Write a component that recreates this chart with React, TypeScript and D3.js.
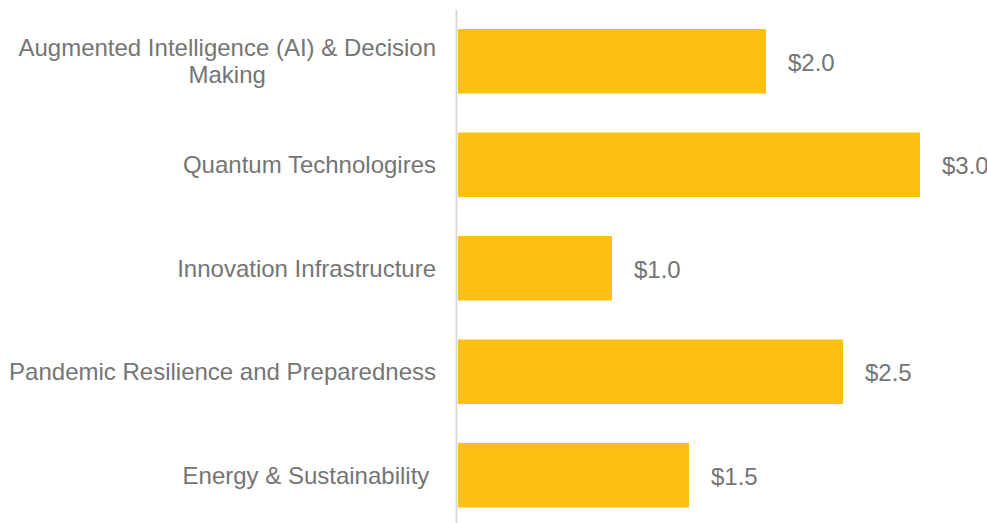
import { useEffect, useRef } from "react";
import * as d3 from "d3";

const categories = [
  ["Augmented Intelligence (AI) & Decision", "Making"],
  ["Quantum Technologires"],
  ["Innovation Infrastructure"],
  ["Pandemic Resilience and Preparedness"],
  ["Energy & Sustainability "],
];
const values = [2.0, 3.0, 1.0, 2.5, 1.5];

export default function App() {
  const ref = useRef<SVGSVGElement>(null);

  useEffect(() => {
    const svg = d3.select(ref.current);
    svg.selectAll("*").remove();

    const width = 987;
    const height = 523;
    const labelRight = 436;

    const x = d3.scaleLinear().domain([0, 3]).range([458, 920]);
    const y = d3
      .scaleBand<number>()
      .domain(values.map((_, i) => i))
      .range([9.5, 527])
      .paddingInner(0.377)
      .paddingOuter(0.1885);

    svg.append("rect").attr("width", width).attr("height", height).attr("fill", "white");

    svg.selectAll("rect.bar")
      .data(values)
      .join("rect")
      .attr("class", "bar")
      .attr("x", x(0))
      .attr("y", (_, i) => y(i)!)
      .attr("width", (d) => x(d) - x(0))
      .attr("height", y.bandwidth())
      .attr("fill", "#FBC012");

    svg.append("line")
      .attr("x1", 456.5).attr("x2", 456.5)
      .attr("y1", 10).attr("y2", height)
      .attr("stroke", "#d9d9d9")
      .attr("stroke-width", 2);

    const font = "'Liberation Sans', Arial, sans-serif";
    const fs = 24;

    // value labels
    svg.selectAll("text.val")
      .data(values)
      .join("text")
      .attr("class", "val")
      .attr("x", (d) => x(d) + 22)
      .attr("y", (_, i) => y(i)! + y.bandwidth() / 2 + 1)
      .attr("dy", "0.35em")
      .attr("font-family", font)
      .attr("font-size", fs)
      .attr("fill", "#757575")
      .text((d) => "$" + d.toFixed(1));

    // category labels
    categories.forEach((lines, i) => {
      const cy = y(i)! + y.bandwidth() / 2;
      const lh = 27;
      const g = svg.append("text")
        .attr("font-family", font)
        .attr("font-size", fs)
        .attr("fill", "#757575")
        .style("white-space", "pre");
      const tspans = lines.map((l, j) =>
        g.append("tspan")
          .attr("y", cy + (j - (lines.length - 1) / 2) * lh)
          .attr("dy", "0.35em")
          .text(l)
      );
      if (lines.length === 1) {
        g.attr("text-anchor", "end");
        tspans[0].attr("x", labelRight);
      } else {
        const w = (tspans[0].node() as SVGTSpanElement).getComputedTextLength();
        const cx = labelRight - w / 2;
        g.attr("text-anchor", "middle");
        tspans.forEach((t) => t.attr("x", cx));
      }
    });
  }, []);

  return (
    <svg
      ref={ref}
      width={987}
      height={523}
      style={{ position: "absolute", left: 0, top: 0, display: "block" }}
    />
  );
}
